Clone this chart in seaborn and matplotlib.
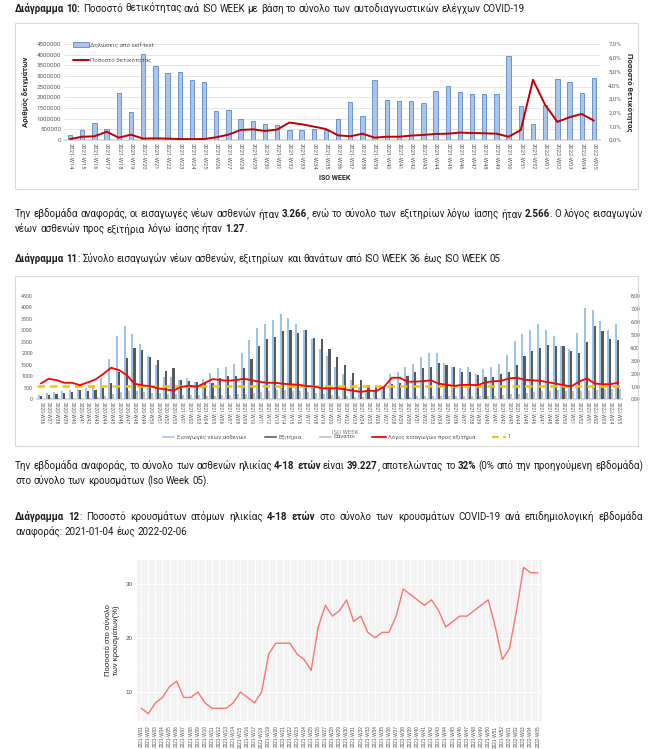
import numpy as np
import pandas as pd
import matplotlib
matplotlib.use("Agg")
import matplotlib.pyplot as plt
import seaborn as sns
from matplotlib.patches import Rectangle, Patch
from matplotlib.lines import Line2D

sns.set_theme(style="white")
TXT_FONT = ["Roboto", "DejaVu Sans"]
plt.rcParams["font.family"] = TXT_FONT
plt.rcParams["axes.unicode_minus"] = False

W, H = 664, 749

# ── Διάγραμμα 10 ─────────────────────────────────────────────────────────────
WEEKS_1 = [f"2021-W{w:02d}" for w in range(14, 53)] + [f"2022-W{w:02d}" for w in range(1, 6)]
SELF_TESTS = [250000, 480000, 800000, 500000, 2200000, 1300000, 4050000, 3450000,
              3150000, 3170000, 2830000, 2700000, 1380000, 1420000, 1000000, 890000,
              750000, 720000, 470000, 470000, 520000, 490000, 990000, 1760000,
              1130000, 2820000, 1880000, 1820000, 1820000, 1720000, 2290000, 2510000,
              2230000, 2160000, 2160000, 2160000, 3950000, 1600000, 740000, 1630000,
              2850000, 2730000, 2210000, 2920000]
POSITIVITY = [0.07, 0.24, 0.27, 0.60, 0.17, 0.39, 0.10, 0.12, 0.10, 0.07, 0.07,
              0.07, 0.20, 0.39, 0.73, 0.78, 0.66, 0.76, 1.27, 1.15, 0.98, 0.80,
              0.34, 0.27, 0.46, 0.17, 0.24, 0.24, 0.32, 0.37, 0.44, 0.46, 0.54,
              0.51, 0.49, 0.46, 0.24, 0.73, 4.39, 2.56, 1.32, 1.66, 1.90, 1.41]

# ── Διάγραμμα 11 ─────────────────────────────────────────────────────────────
WEEKS_2 = ([f"2020-W{w:02d}" for w in range(36, 54)] + [f"2021-W{w:02d}" for w in range(1, 53)]
           + [f"2022-W{w:02d}" for w in range(1, 6)])
ADMISSIONS = [175, 245, 320, 350, 390, 420, 465, 610, 900, 1740, 2745, 3180, 2860, 2395,
              1900, 1480, 970, 970, 830, 900, 755, 860, 1120, 1335, 1410, 1550, 1990,
              2570, 3105, 3295, 3440, 3700, 3540, 3265, 3005, 2630, 2180, 1870,
              1380, 1090, 830, 540, 400, 330, 500, 1090, 1190, 1380, 1550, 1815, 1990,
              1990, 1580, 1410, 1365, 1380, 1090, 1290, 1410, 1550, 1915, 2525, 2860,
              3035, 3265, 3035, 2745, 2335, 2190, 2875, 3980, 3875, 3410, 3005, 3266]
DISCHARGES = [145, 160, 215, 275, 310, 390, 360, 400, 465, 715, 1190, 1770, 2235, 2135,
              1815, 1700, 1235, 1335, 830, 785, 755, 710, 680, 900, 990, 1000, 1335,
              1750, 2300, 2600, 2700, 2975, 3035, 2905, 3005, 2650, 2600, 2180,
              1815, 1480, 1120, 830, 600, 520, 520, 655, 720, 1000, 1190, 1365, 1410,
              1580, 1480, 1410, 1190, 1190, 1045, 970, 970, 1075, 1160, 1480, 1870,
              2090, 2235, 2380, 2335, 2310, 2105, 1990, 2500, 3180, 2960, 2640, 2566]
DEATHS = [20, 25, 30, 35, 40, 50, 60, 90, 150, 220, 300, 340, 330, 310, 280, 250, 220, 200,
          180, 170, 160, 150, 150, 160, 180, 200, 230, 270, 310, 350, 380, 390, 370, 340,
          300, 260, 220, 180,
          150, 120, 90, 70, 50, 40, 35, 40, 60, 90, 120, 140, 150, 150, 140, 130, 120,
          115, 110, 120,
          140, 170, 200, 240, 280, 320, 350, 370, 380, 370, 360, 350,
          360, 400, 430, 450, 430]
RATIO = [1.21, 1.57, 1.47, 1.26, 1.26, 1.08, 1.29, 1.52, 1.94, 2.43, 2.25, 1.86, 1.19,
         1.06, 1.00, 0.83, 0.75, 0.65, 0.95, 1.03, 0.95, 1.24, 1.55, 1.47, 1.42, 1.47,
         1.57, 1.47, 1.34, 1.26, 1.26, 1.19, 1.14, 1.11, 1.01, 0.98, 0.83, 0.83,
         0.83, 0.75, 0.65, 0.55, 0.65, 0.62, 0.95, 1.65, 1.65, 1.35, 1.35, 1.38, 1.45,
         1.20, 1.10, 1.02, 1.10, 1.10, 1.08, 1.30, 1.38, 1.40, 1.60, 1.65, 1.50, 1.45,
         1.42, 1.30, 1.20, 1.08, 0.98, 1.35, 1.60, 1.20, 1.15, 1.15, 1.27]
SERIES_2 = ["Εισαγωγές νέων ασθενών", "Εξιτήρια", "Θάνατοι"]

# ── Διάγραμμα 12 ─────────────────────────────────────────────────────────────
WEEKS_3 = [f"2021-W{w:02d}" for w in range(1, 53)] + [f"2022-W{w:02d}" for w in range(1, 6)]
CHILD_SHARE = [7, 6, 8, 9, 11, 12, 9, 9, 10, 8, 7, 7, 7, 8, 10, 9, 8, 10, 17, 19,
               19, 19, 17, 16, 14, 22, 26, 24, 25, 27, 23, 24, 21, 20, 21, 21, 24, 29,
               28, 27, 26, 27, 25, 22, 23, 24, 24, 25, 26, 27, 22, 16,
               18, 25, 33, 32, 32]

fig = plt.figure(figsize=(W / 100, H / 100), dpi=100)
fig.patch.set_facecolor("white")
renderer = fig.canvas.get_renderer()


def fx(px):
    return px / W


def fy(py):
    return 1 - py / H


def text_w(s, size, bold):
    t = fig.text(0, 0, s, fontsize=size, fontweight="bold" if bold else "normal")
    w = t.get_window_extent(renderer=renderer).width
    t.remove()
    return w


def to_words(runs):
    words = [[]]
    for s, b in runs:
        for k, p in enumerate(s.split(" ")):
            if k > 0:
                words.append([])
            if p:
                words[-1].append((p, b))
    return [w for w in words if w]


def put_line(runs, y, x0=15, x1=None, size=7.0):
    # μία γραμμή κειμένου, λέξη-λέξη, με προαιρετική πλήρη στοίχιση
    words = to_words(runs)
    space = text_w("a a", size, False) - text_w("aa", size, False)
    placed = []
    for w in words:
        segs = []
        for s, b in w:
            t = fig.text(0, fy(y), s, fontsize=size, va="center", ha="left",
                         fontweight="bold" if b else "normal", color="#1a1a1a")
            segs.append((t, t.get_window_extent(renderer=renderer).width))
        placed.append(segs)
    total = sum(sw for segs in placed for _, sw in segs)
    gap = space
    if x1 is not None and len(placed) > 1:
        gap = max((x1 - x0 - total) / (len(placed) - 1), space * 0.5)
    x = x0
    for segs in placed:
        for t, sw in segs:
            t.set_x(fx(x))
            x += sw
        x += gap


# ── κείμενο σελίδας ──────────────────────────────────────────────────────────
put_line([("Διάγραμμα 10:", True),
          (" Ποσοστό θετικότητας ανά ISO WEEK με βάση το σύνολο των αυτοδιαγνωστικών ελέγχων COVID-19", False)], 8.5)
put_line([("Την εβδομάδα αναφοράς, οι εισαγωγές νέων ασθενών ήταν ", False), ("3.266", True),
          (", ενώ το σύνολο των εξιτηρίων λόγω ίασης ήταν ", False), ("2.566", True),
          (".  Ο λόγος εισαγωγών", False)], 214, x1=643)
put_line([("νέων ασθενών προς εξιτήρια λόγω ίασης ήταν ", False), ("1.27", True), (".", False)], 229)
put_line([("Διάγραμμα 11", True),
          (": Σύνολο εισαγωγών νέων ασθενών, εξιτηρίων και θανάτων από ISO WEEK 36 έως ISO WEEK 05", False)], 259)
put_line([("Την εβδομάδα αναφοράς, το σύνολο των ασθενών ηλικίας ", False), ("4-18 ετών", True),
          (" είναι ", False), ("39.227", True), (", αποτελώντας το ", False), ("32%", True),
          (" (0% από την προηγούμενη εβδομάδα)", False)], 466, x1=643)
put_line([("στο σύνολο των κρουσμάτων (Iso Week 05).", False)], 481)
put_line([("Διάγραμμα 12", True), (": Ποσοστό κρουσμάτων ατόμων ηλικίας ", False), ("4-18 ετών", True),
          (" στο σύνολο των κρουσμάτων COVID-19 ανά επιδημιολογική εβδομάδα", False)], 517, x1=643)
put_line([("αναφοράς: 2021-01-04 έως 2022-02-06", False)], 532)

# πλαίσια γραφημάτων Excel
for (x0, y0, x1, y1) in [(15, 23, 638, 189), (15, 276, 638, 446)]:
    fig.patches.append(Rectangle((fx(x0), fy(y1)), fx(x1 - x0), (y1 - y0) / H,
                                 transform=fig.transFigure, fill=False,
                                 edgecolor="#D9D9D9", linewidth=0.8))

TICK_C = "#595959"

# ══════════════════════════════════════════════════════════════════════════════
# Διάγραμμα 10
# ══════════════════════════════════════════════════════════════════════════════
ax1 = fig.add_axes([fx(64), fy(140), fx(536), 96 / H])
df1 = pd.DataFrame({"week": WEEKS_1, "tests": SELF_TESTS, "pos": POSITIVITY})
sns.barplot(data=df1, x="week", y="tests", ax=ax1, color="#A9C5EB", edgecolor="#5B87C5",
            linewidth=0.6, width=0.36, saturation=1, zorder=3)
ax1.set_xlim(-0.5, len(WEEKS_1) - 0.5)
ax1.set_ylim(0, 4500000)
ax1.set_yticks(range(0, 4500001, 500000))
ax1.set_yticklabels([str(v) for v in range(0, 4500001, 500000)])
ax1.yaxis.grid(True, color="#E3E3E3", linewidth=0.6, zorder=0)
ax1.set_axisbelow(True)
ax1.set_xticks(range(len(WEEKS_1)))
ax1.set_xticklabels(WEEKS_1, rotation=270, fontsize=4.2, color=TICK_C)
ax1.tick_params(axis="y", labelsize=4.4, labelcolor=TICK_C, length=0, pad=2)
ax1.tick_params(axis="x", length=0, pad=2)
ax1.set_xlabel("")
ax1.set_ylabel("Αριθμός δειγμάτων", fontsize=5.6, fontweight="bold", color="#262626")
ax1.yaxis.set_label_coords((30 - 64) / 536, 0.5)
for s in ax1.spines.values():
    s.set_visible(False)
ax1.spines["bottom"].set_visible(True)
ax1.spines["bottom"].set_color("#D9D9D9")

ax1b = ax1.twinx()
sns.lineplot(x=np.arange(len(WEEKS_1)), y=POSITIVITY, ax=ax1b, color="#C00000", linewidth=1.4)
ax1b.set_ylim(0, 7)
ax1b.set_yticks(range(0, 8))
ax1b.set_yticklabels([f"{v},0%" for v in range(0, 8)])
ax1b.tick_params(axis="y", labelsize=4.4, labelcolor=TICK_C, length=0, pad=6)
ax1b.set_ylabel("Ποσοστό θετικότητας", fontsize=5.6, fontweight="bold", color="#262626",
                rotation=270, va="center")
ax1b.yaxis.set_label_coords((629 - 64) / 536, 0.5)
for s in ax1b.spines.values():
    s.set_visible(False)
fig.text(fx(335), fy(178), "ISO WEEK", fontsize=5, fontweight="bold", ha="center", va="center",
         color="#262626")
fig.legend(handles=[Patch(facecolor="#A9C5EB", edgecolor="#5B87C5", linewidth=0.6),
                    Line2D([], [], color="#C00000", linewidth=1.4)],
           labels=["Δηλώσεις από self-test", "Ποσοστό θετικότητας"],
           loc="upper left", bbox_to_anchor=(fx(70), fy(39)), frameon=False,
           fontsize=4.4, handlelength=2.6, handleheight=0.9, labelspacing=1.6,
           handletextpad=0.2, labelcolor=TICK_C, borderpad=0)

# ══════════════════════════════════════════════════════════════════════════════
# Διάγραμμα 11
# ══════════════════════════════════════════════════════════════════════════════
ax2 = fig.add_axes([fx(37), fy(399), fx(585), 103 / H])
long2 = pd.DataFrame({
    "week": WEEKS_2 * 3,
    "value": ADMISSIONS + DISCHARGES + DEATHS,
    "series": [SERIES_2[0]] * len(WEEKS_2) + [SERIES_2[1]] * len(WEEKS_2) + [SERIES_2[2]] * len(WEEKS_2),
})
PAL2 = {"Εισαγωγές νέων ασθενών": "#9DC3E6", "Εξιτήρια": "#595959", "Θάνατοι": "#BFBFBF"}
sns.barplot(data=long2, x="week", y="value", hue="series", hue_order=SERIES_2, palette=PAL2,
            ax=ax2, width=0.82, saturation=1, legend=False, zorder=3,
            edgecolor="none", linewidth=0)
ax2.set_xlim(-0.5, len(WEEKS_2) - 0.5)
ax2.set_ylim(0, 4500)
ax2.set_yticks(range(0, 4501, 500))
ax2.yaxis.grid(False)
ax2.set_xticks(range(len(WEEKS_2)))
ax2.set_xticklabels(WEEKS_2, rotation=270, fontsize=3.5, color=TICK_C)
ax2.tick_params(axis="y", labelsize=3.9, labelcolor=TICK_C, length=0, pad=3)
ax2.tick_params(axis="x", length=0, pad=2)
ax2.set_xlabel("")
ax2.set_ylabel("")
for s in ax2.spines.values():
    s.set_visible(False)
ax2.spines["bottom"].set_visible(True)
ax2.spines["bottom"].set_color("#D9D9D9")

ax2b = ax2.twinx()
ax2b.axhline(1, color="#FFC000", linewidth=1.8, linestyle=(0, (3, 2)), zorder=4)
sns.lineplot(x=np.arange(len(WEEKS_2)), y=RATIO, ax=ax2b, color="#FF0000", linewidth=1.3, zorder=5)
ax2b.set_ylim(0, 8)
ax2b.set_yticks(range(0, 9))
ax2b.set_yticklabels([f"{v},00" for v in range(0, 9)])
ax2b.tick_params(axis="y", labelsize=3.9, labelcolor=TICK_C, length=0, pad=6)
for s in ax2b.spines.values():
    s.set_visible(False)
fig.text(fx(345), fy(432), "ISO WEEK", fontsize=4.2, ha="center", va="center", color="#7F7F7F")
fig.legend(handles=[Patch(facecolor=PAL2[SERIES_2[0]]), Patch(facecolor=PAL2[SERIES_2[1]]),
                    Patch(facecolor=PAL2[SERIES_2[2]]),
                    Line2D([], [], color="#FF0000", linewidth=1.3),
                    Line2D([], [], color="#FFC000", linewidth=1.6, linestyle=(0, (3, 2)))],
           labels=SERIES_2 + ["Λόγος εισαγωγών προς εξιτήρια", "1"],
           loc="center", bbox_to_anchor=(fx(336), fy(437)), ncol=5, frameon=False,
           fontsize=4.2, handlelength=2.4, handleheight=0.5, columnspacing=2.8,
           handletextpad=0.3, labelcolor=TICK_C, borderpad=0)

# ══════════════════════════════════════════════════════════════════════════════
# Διάγραμμα 12 (ggplot)
# ══════════════════════════════════════════════════════════════════════════════
GG_FONT = ["Liberation Sans", "DejaVu Sans"]
ax3 = fig.add_axes([fx(137), fy(721), fx(405), 161 / H])
ax3.set_facecolor("#F3F3F3")
sns.lineplot(x=np.arange(len(WEEKS_3)), y=CHILD_SHARE, ax=ax3, color="#F8766D", linewidth=1.0, zorder=3)
ax3.set_xlim(-0.6, len(WEEKS_3) - 0.4)
ax3.set_ylim(4.65, 34.35)
ax3.set_xticks(range(len(WEEKS_3)))
ax3.set_xticklabels(WEEKS_3, rotation=90, fontsize=3.4, color="#4D4D4D", va="top")
ax3.set_yticks([10, 20, 30])
ax3.set_yticks([5, 15, 25], minor=True)
ax3.grid(True, which="major", color="white", linewidth=0.7)
ax3.grid(True, which="minor", axis="y", color="white", linewidth=0.35)
ax3.tick_params(axis="both", which="major", length=2, width=0.5, color="#333333", pad=1.2)
ax3.tick_params(axis="y", labelsize=4.5, labelcolor="#4D4D4D")
ax3.tick_params(which="minor", length=0)
ax3.set_xlabel("")
ax3.set_ylabel("Ποσοστό στο σύνολο\nτων κρουσμάτων(%)", fontsize=5.5, color="#1a1a1a",
               family=GG_FONT, linespacing=1.1)
ax3.yaxis.set_label_coords((120 - 137) / 405, 0.5)
for s in ax3.spines.values():
    s.set_visible(False)
for lab in ax3.get_yticklabels() + ax3.get_xticklabels():
    lab.set_family(GG_FONT)

fig.savefig("out.png", dpi=100)
